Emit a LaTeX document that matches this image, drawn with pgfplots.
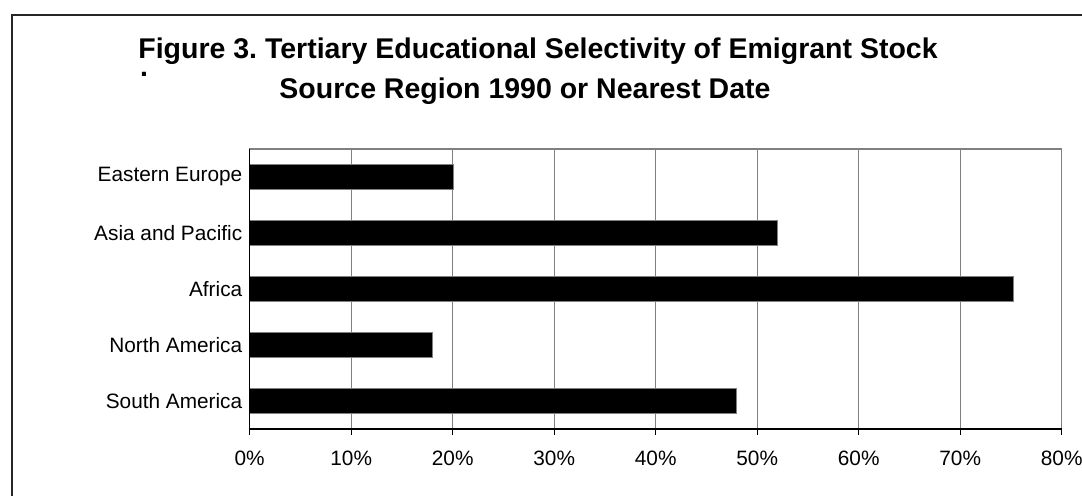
\documentclass[border=0pt]{standalone}
\usepackage{pgfplots}
\pgfplotsset{compat=1.18}
\usepackage{fontspec}
\setmainfont{Liberation Sans}
\frenchspacing

% tertiary-educated share of emigrant stock, by source region
\pgfplotstableread{
pos share
0   48.0
1   18.0
2   75.2
3   52.0
4   20.1
}\selectivity

\begin{document}
\begin{tikzpicture}
% page: 541pt x 248pt
\useasboundingbox (0,0) rectangle (541pt,-248pt);

% outer chart frame
\draw[black!85, line width=0.9pt] (6pt,-300pt) -- (6pt,-7.5pt) -- (700pt,-7.5pt);

% title
\node[anchor=base, inner sep=0pt, font=\fontsize{14.25pt}{16pt}\selectfont\bfseries]
  at (269pt,-29.15pt) {Figure 3. Tertiary Educational Selectivity of Emigrant Stock};
\node[anchor=base west, inner sep=0pt, font=\fontsize{14.25pt}{16pt}\selectfont\bfseries]
  at (69.8pt,-38.5pt) {.};
\node[anchor=base, inner sep=0pt, font=\fontsize{14.25pt}{16pt}\selectfont\bfseries]
  at (262.5pt,-49.15pt) {Source Region 1990 or Nearest Date};

\begin{axis}[
  anchor=north west, at={(124.85pt,-74.5pt)},
  scale only axis, width=406pt, height=140pt,
  xbar, bar width=12.5pt,
  xmin=0, xmax=80, ymin=-0.5, ymax=4.5,
  xtick={0,10,...,80},
  xticklabels={0\%,10\%,20\%,30\%,40\%,50\%,60\%,70\%,80\%},
  ytick={0,1,2,3,4},
  yticklabels={South America,North America,Africa,Asia and Pacific,Eastern Europe},
  tick label style={font=\fontsize{10.4pt}{12pt}\selectfont},
  xticklabel style={yshift=-4.5pt},
  yticklabel style={xshift=2.8pt},
  xtick pos=bottom, tick align=outside, major tick length=3pt,
  xtick style={black, line width=0.5pt},
  ytick style={draw=none},
  xmajorgrids, major grid style={gray, line width=0.6pt},
  axis line style={gray, line width=0.6pt},
  after end axis/.code={
    \draw[black, line width=0.6pt] (rel axis cs:0,1) -- (rel axis cs:0,0) -- (rel axis cs:1,0);
  },
]
\addplot[fill=black, draw=gray, line width=0.4pt] table[x=share, y=pos] {\selectivity};
\end{axis}
\end{tikzpicture}
\end{document}
